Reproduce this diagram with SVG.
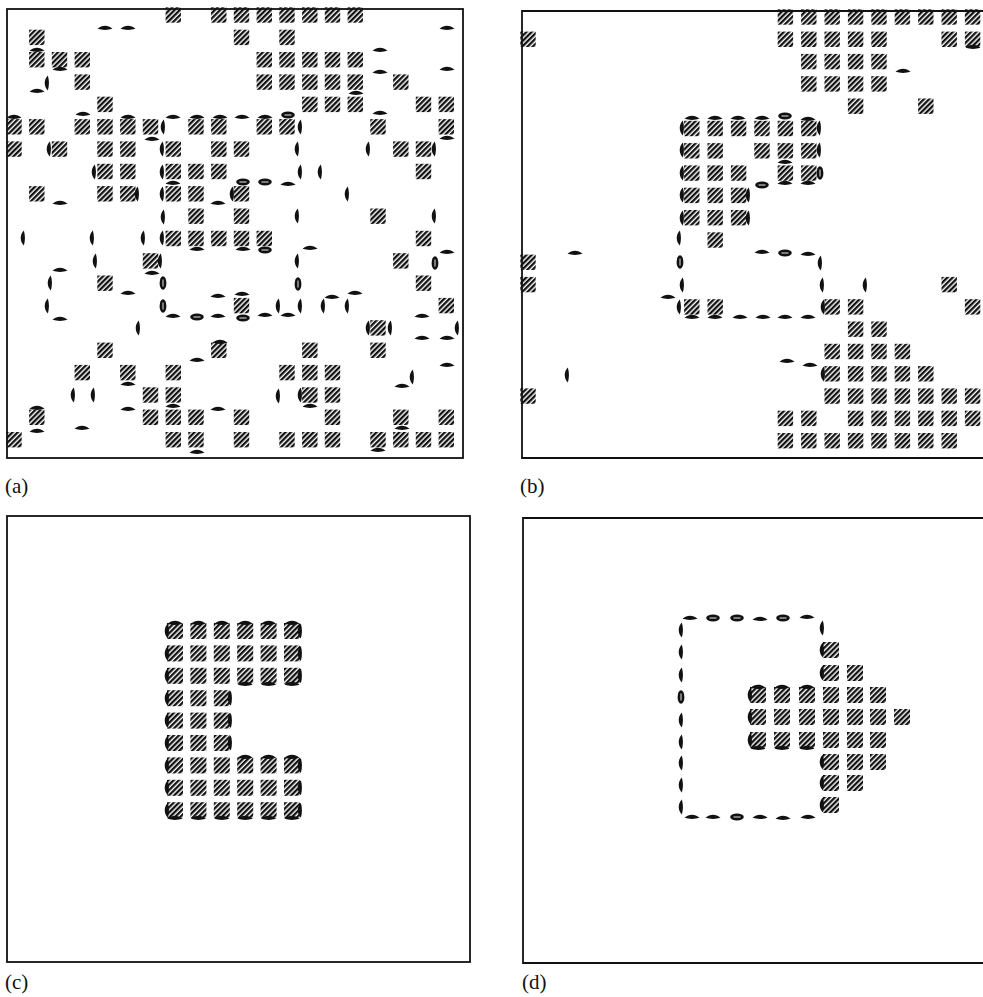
<svg xmlns="http://www.w3.org/2000/svg" xmlns:xlink="http://www.w3.org/1999/xlink" width="983" height="997" viewBox="0 0 983 997">
<style>
.frame{fill:none;stroke:#111;stroke-width:1.8}
.lbl{font-family:"Liberation Serif","Times New Roman",serif;font-size:21px;fill:#111}
.mk{fill:#111}
</style>
<defs>
<pattern id="hatch" patternUnits="userSpaceOnUse" width="3.7" height="3.7" patternTransform="rotate(45)">
<rect width="2.3" height="3.7" fill="#111"/>
</pattern>
<rect id="q" x="-7.7" y="-7.7" width="15.4" height="15.4" fill="url(#hatch)"/>
<rect id="Q" x="-8" y="-8" width="16" height="16" fill="url(#hatch)"/>
<path id="h" class="mk" d="M-7.5,0.8 C-3,-3.3 3,-3.3 7.5,0.8 C3,2.3 -3,2.3 -7.5,0.8Z"/>
<path id="v" class="mk" d="M0.8,-7.5 C-3.3,-3 -3.3,3 0.8,7.5 C2.3,3 2.3,-3 0.8,-7.5Z"/>
<g id="o"><ellipse class="mk" rx="6.8" ry="3.4"/><line x1="-3.5" x2="3.5" y1="0" y2="0" stroke="#fff" stroke-width="0.9"/></g>
<g id="ov"><ellipse class="mk" rx="3.4" ry="6.8"/><line x1="0" x2="0" y1="-3.5" y2="3.5" stroke="#fff" stroke-width="0.9"/></g>
</defs>
<rect width="983" height="997" fill="#fff"/>

<g id="panel-a">
<rect class="frame" x="7" y="9" width="456" height="449"/>
<g id="a-squares">
<use href="#q" x="173.3" y="15"/><use href="#q" x="218.8" y="15"/><use href="#q" x="241.5" y="15"/><use href="#q" x="264.3" y="15"/><use href="#q" x="287" y="15"/><use href="#q" x="309.8" y="15"/><use href="#q" x="332.5" y="15"/><use href="#q" x="355.3" y="15"/>
<use href="#q" x="36.8" y="37.4"/><use href="#q" x="241.5" y="37.4"/><use href="#q" x="287" y="37.4"/>
<use href="#q" x="36.8" y="59.7"/><use href="#q" x="59.5" y="59.7"/><use href="#q" x="82.3" y="59.7"/><use href="#q" x="264.3" y="59.7"/><use href="#q" x="287" y="59.7"/><use href="#q" x="309.8" y="59.7"/><use href="#q" x="332.5" y="59.7"/><use href="#q" x="355.3" y="59.7"/>
<use href="#q" x="82.3" y="82.1"/><use href="#q" x="264.3" y="82.1"/><use href="#q" x="287" y="82.1"/><use href="#q" x="309.8" y="82.1"/><use href="#q" x="332.5" y="82.1"/><use href="#q" x="355.3" y="82.1"/><use href="#q" x="400.8" y="82.1"/>
<use href="#q" x="105" y="104.4"/><use href="#q" x="309.8" y="104.4"/><use href="#q" x="332.5" y="104.4"/><use href="#q" x="355.3" y="104.4"/><use href="#q" x="423.5" y="104.4"/><use href="#q" x="446.3" y="104.4"/>
<use href="#q" x="14" y="126.8"/><use href="#q" x="36.8" y="126.8"/><use href="#q" x="82.3" y="126.8"/><use href="#q" x="105" y="126.8"/><use href="#q" x="127.8" y="126.8"/><use href="#q" x="150.5" y="126.8"/><use href="#q" x="196" y="126.8"/><use href="#q" x="218.8" y="126.8"/><use href="#q" x="264.3" y="126.8"/><use href="#q" x="287" y="126.8"/><use href="#q" x="378" y="126.8"/><use href="#q" x="446.3" y="126.8"/>
<use href="#q" x="14" y="149.1"/><use href="#q" x="59.5" y="149.1"/><use href="#q" x="105" y="149.1"/><use href="#q" x="127.8" y="149.1"/><use href="#q" x="173.3" y="149.1"/><use href="#q" x="218.8" y="149.1"/><use href="#q" x="241.5" y="149.1"/><use href="#q" x="400.8" y="149.1"/><use href="#q" x="423.5" y="149.1"/>
<use href="#q" x="105" y="171.5"/><use href="#q" x="127.8" y="171.5"/><use href="#q" x="173.3" y="171.5"/><use href="#q" x="196" y="171.5"/><use href="#q" x="218.8" y="171.5"/><use href="#q" x="423.5" y="171.5"/>
<use href="#q" x="36.8" y="193.8"/><use href="#q" x="105" y="193.8"/><use href="#q" x="127.8" y="193.8"/><use href="#q" x="173.3" y="193.8"/><use href="#q" x="196" y="193.8"/><use href="#q" x="241.5" y="193.8"/>
<use href="#q" x="196" y="216.2"/><use href="#q" x="241.5" y="216.2"/><use href="#q" x="378" y="216.2"/>
<use href="#q" x="173.3" y="238.5"/><use href="#q" x="196" y="238.5"/><use href="#q" x="218.8" y="238.5"/><use href="#q" x="241.5" y="238.5"/><use href="#q" x="264.3" y="238.5"/><use href="#q" x="423.5" y="238.5"/>
<use href="#q" x="150.5" y="260.9"/><use href="#q" x="400.8" y="260.9"/>
<use href="#q" x="105" y="283.2"/><use href="#q" x="423.5" y="283.2"/>
<use href="#q" x="241.5" y="305.6"/><use href="#q" x="446.3" y="305.6"/>
<use href="#q" x="378" y="327.9"/>
<use href="#q" x="105" y="350.3"/><use href="#q" x="218.8" y="350.3"/><use href="#q" x="309.8" y="350.3"/><use href="#q" x="378" y="350.3"/>
<use href="#q" x="82.3" y="372.6"/><use href="#q" x="127.8" y="372.6"/><use href="#q" x="173.3" y="372.6"/><use href="#q" x="287" y="372.6"/><use href="#q" x="309.8" y="372.6"/><use href="#q" x="332.5" y="372.6"/>
<use href="#q" x="150.5" y="395"/><use href="#q" x="173.3" y="395"/><use href="#q" x="309.8" y="395"/><use href="#q" x="332.5" y="395"/>
<use href="#q" x="36.8" y="417.3"/><use href="#q" x="150.5" y="417.3"/><use href="#q" x="173.3" y="417.3"/><use href="#q" x="196" y="417.3"/><use href="#q" x="241.5" y="417.3"/><use href="#q" x="332.5" y="417.3"/><use href="#q" x="400.8" y="417.3"/><use href="#q" x="446.3" y="417.3"/>
<use href="#q" x="14" y="439.7"/><use href="#q" x="173.3" y="439.7"/><use href="#q" x="196" y="439.7"/><use href="#q" x="241.5" y="439.7"/><use href="#q" x="287" y="439.7"/><use href="#q" x="309.8" y="439.7"/><use href="#q" x="332.5" y="439.7"/><use href="#q" x="378" y="439.7"/><use href="#q" x="400.8" y="439.7"/><use href="#q" x="423.5" y="439.7"/><use href="#q" x="446.3" y="439.7"/>
</g>
<g id="a-marks">
<use href="#h" x="105" y="28"/><use href="#h" x="128" y="28"/><use href="#h" x="447" y="28"/><use href="#h" x="37" y="50"/><use href="#h" x="380" y="50"/><use href="#h" x="60" y="69"/><use href="#h" x="380" y="72"/><use href="#h" x="447" y="69"/><use href="#h" x="37" y="91"/><use href="#h" x="356" y="93"/><use href="#h" x="83" y="114"/><use href="#h" x="380" y="113"/><use href="#h" x="14" y="117"/><use href="#h" x="128" y="117"/><use href="#h" x="173" y="117"/><use href="#h" x="197" y="117"/><use href="#h" x="220" y="117"/><use href="#h" x="242" y="117"/><use href="#h" x="265" y="117"/><use href="#h" x="152" y="139"/><use href="#h" x="447" y="138"/><use href="#h" x="173" y="183"/><use href="#h" x="288" y="184"/><use href="#h" x="60" y="203"/><use href="#h" x="218" y="203"/><use href="#h" x="197" y="249"/><use href="#h" x="243" y="249"/><use href="#h" x="310" y="248"/><use href="#h" x="447" y="252"/><use href="#h" x="60" y="270"/><use href="#h" x="152" y="273"/><use href="#h" x="128" y="293"/><use href="#h" x="218" y="296"/><use href="#h" x="242" y="294"/><use href="#h" x="332" y="297"/><use href="#h" x="355" y="293"/><use href="#h" x="60" y="319"/><use href="#h" x="173" y="316"/><use href="#h" x="218" y="316"/><use href="#h" x="265" y="315"/><use href="#h" x="288" y="315"/><use href="#h" x="422" y="316"/><use href="#h" x="422" y="338"/><use href="#h" x="447" y="338"/><use href="#h" x="220" y="342"/><use href="#h" x="197" y="360"/><use href="#h" x="447" y="365"/><use href="#h" x="128" y="384"/><use href="#h" x="402" y="386"/><use href="#h" x="173" y="406"/><use href="#h" x="310" y="406"/><use href="#h" x="128" y="409"/><use href="#h" x="218" y="409"/><use href="#h" x="37" y="408"/><use href="#h" x="37" y="431"/><use href="#h" x="82" y="428"/><use href="#h" x="402" y="428"/><use href="#h" x="197" y="452"/><use href="#h" x="378" y="450"/>
<use href="#o" x="288" y="115"/><use href="#o" x="243" y="182"/><use href="#o" x="265" y="182"/><use href="#o" x="265" y="250"/><use href="#o" x="243" y="318"/><use href="#o" x="197" y="317"/>
<use href="#v" x="47" y="83"/><use href="#v" x="163" y="127"/><use href="#v" x="300" y="127"/><use href="#v" x="49" y="149"/><use href="#v" x="162" y="149"/><use href="#v" x="297" y="149"/><use href="#v" x="368" y="149"/><use href="#v" x="434" y="149"/><use href="#v" x="94" y="172"/><use href="#v" x="162" y="172"/><use href="#v" x="300" y="172"/><use href="#v" x="320" y="172"/><use href="#v" x="137" y="194"/><use href="#v" x="162" y="194"/><use href="#v" x="232" y="194"/><use href="#v" x="347" y="194"/><use href="#v" x="163" y="217"/><use href="#v" x="297" y="216"/><use href="#v" x="434" y="216"/><use href="#v" x="23" y="238"/><use href="#v" x="92" y="238"/><use href="#v" x="143" y="238"/><use href="#v" x="162" y="238"/><use href="#v" x="95" y="261"/><use href="#v" x="160" y="261"/><use href="#v" x="297" y="261"/><use href="#v" x="50" y="283"/><use href="#v" x="47" y="306"/><use href="#v" x="278" y="306"/><use href="#v" x="300" y="306"/><use href="#v" x="323" y="306"/><use href="#v" x="347" y="306"/><use href="#v" x="138" y="328"/><use href="#v" x="368" y="328"/><use href="#v" x="390" y="328"/><use href="#v" x="457" y="328"/><use href="#v" x="412" y="377"/><use href="#v" x="73" y="395"/><use href="#v" x="93" y="395"/><use href="#v" x="278" y="396"/><use href="#v" x="300" y="395"/>
<use href="#ov" x="163" y="283"/><use href="#ov" x="163" y="306"/><use href="#ov" x="298" y="284"/><use href="#ov" x="435" y="263"/>
</g>
<text class="lbl" x="5" y="493">(a)</text>
</g>

<g id="panel-b">
<path class="frame" d="M983,11 H522 V458 H983"/>
<g id="b-squares">
<use href="#q" x="785.4" y="17"/><use href="#q" x="808.8" y="17"/><use href="#q" x="832.2" y="17"/><use href="#q" x="855.6" y="17"/><use href="#q" x="879" y="17"/><use href="#q" x="902.4" y="17"/><use href="#q" x="925.8" y="17"/><use href="#q" x="949.2" y="17"/><use href="#q" x="972.6" y="17"/>
<use href="#q" x="528" y="39.3"/><use href="#q" x="785.4" y="39.3"/><use href="#q" x="808.8" y="39.3"/><use href="#q" x="832.2" y="39.3"/><use href="#q" x="855.6" y="39.3"/><use href="#q" x="879" y="39.3"/><use href="#q" x="949.2" y="39.3"/><use href="#q" x="972.6" y="39.3"/>
<use href="#q" x="808.8" y="61.6"/><use href="#q" x="832.2" y="61.6"/><use href="#q" x="855.6" y="61.6"/><use href="#q" x="879" y="61.6"/>
<use href="#q" x="808.8" y="83.9"/><use href="#q" x="832.2" y="83.9"/><use href="#q" x="855.6" y="83.9"/><use href="#q" x="879" y="83.9"/>
<use href="#q" x="855.6" y="106.2"/><use href="#q" x="925.8" y="106.2"/>
<use href="#q" x="691.8" y="128.5"/><use href="#q" x="715.2" y="128.5"/><use href="#q" x="738.6" y="128.5"/><use href="#q" x="762" y="128.5"/><use href="#q" x="785.4" y="128.5"/><use href="#q" x="808.8" y="128.5"/>
<use href="#q" x="691.8" y="150.8"/><use href="#q" x="715.2" y="150.8"/><use href="#q" x="762" y="150.8"/><use href="#q" x="785.4" y="150.8"/><use href="#q" x="808.8" y="150.8"/>
<use href="#q" x="691.8" y="173.1"/><use href="#q" x="715.2" y="173.1"/><use href="#q" x="738.6" y="173.1"/><use href="#q" x="785.4" y="173.1"/><use href="#q" x="808.8" y="173.1"/>
<use href="#q" x="691.8" y="195.4"/><use href="#q" x="715.2" y="195.4"/><use href="#q" x="738.6" y="195.4"/>
<use href="#q" x="691.8" y="217.7"/><use href="#q" x="715.2" y="217.7"/><use href="#q" x="738.6" y="217.7"/>
<use href="#q" x="715.2" y="240"/>
<use href="#q" x="528" y="262.3"/>
<use href="#q" x="528" y="284.6"/><use href="#q" x="949.2" y="284.6"/>
<use href="#q" x="691.8" y="306.9"/><use href="#q" x="715.2" y="306.9"/><use href="#q" x="832.2" y="306.9"/><use href="#q" x="855.6" y="306.9"/><use href="#q" x="972.6" y="306.9"/>
<use href="#q" x="855.6" y="329.2"/><use href="#q" x="879" y="329.2"/>
<use href="#q" x="832.2" y="351.5"/><use href="#q" x="855.6" y="351.5"/><use href="#q" x="879" y="351.5"/><use href="#q" x="902.4" y="351.5"/>
<use href="#q" x="832.2" y="373.8"/><use href="#q" x="855.6" y="373.8"/><use href="#q" x="879" y="373.8"/><use href="#q" x="902.4" y="373.8"/><use href="#q" x="925.8" y="373.8"/>
<use href="#q" x="528" y="396.1"/><use href="#q" x="832.2" y="396.1"/><use href="#q" x="855.6" y="396.1"/><use href="#q" x="879" y="396.1"/><use href="#q" x="902.4" y="396.1"/><use href="#q" x="925.8" y="396.1"/><use href="#q" x="949.2" y="396.1"/><use href="#q" x="972.6" y="396.1"/>
<use href="#q" x="785.4" y="418.4"/><use href="#q" x="808.8" y="418.4"/><use href="#q" x="855.6" y="418.4"/><use href="#q" x="879" y="418.4"/><use href="#q" x="902.4" y="418.4"/><use href="#q" x="925.8" y="418.4"/><use href="#q" x="949.2" y="418.4"/><use href="#q" x="972.6" y="418.4"/>
<use href="#q" x="785.4" y="440.7"/><use href="#q" x="808.8" y="440.7"/><use href="#q" x="832.2" y="440.7"/><use href="#q" x="855.6" y="440.7"/><use href="#q" x="879" y="440.7"/><use href="#q" x="902.4" y="440.7"/><use href="#q" x="925.8" y="440.7"/><use href="#q" x="949.2" y="440.7"/>
</g>
<g id="b-marks">
<use href="#h" x="973" y="47"/><use href="#h" x="903" y="71"/><use href="#h" x="692" y="118"/><use href="#h" x="715" y="118"/><use href="#h" x="738" y="118"/><use href="#h" x="762" y="118"/><use href="#h" x="808" y="119"/><use href="#h" x="785" y="162"/><use href="#h" x="785" y="183"/><use href="#h" x="808" y="183"/><use href="#h" x="575" y="253"/><use href="#h" x="762" y="252"/><use href="#h" x="808" y="254"/><use href="#h" x="668" y="297"/><use href="#h" x="692" y="317"/><use href="#h" x="715" y="317"/><use href="#h" x="740" y="317"/><use href="#h" x="763" y="317"/><use href="#h" x="785" y="317"/><use href="#h" x="808" y="317"/><use href="#h" x="787" y="361"/><use href="#h" x="810" y="365"/>
<use href="#o" x="785" y="116"/><use href="#o" x="762" y="185"/><use href="#o" x="785" y="253"/>
<use href="#v" x="682" y="128"/><use href="#v" x="682" y="150"/><use href="#v" x="682" y="173"/><use href="#v" x="682" y="195"/><use href="#v" x="682" y="218"/><use href="#v" x="819" y="128"/><use href="#v" x="819" y="150"/><use href="#v" x="748" y="195"/><use href="#v" x="748" y="218"/><use href="#v" x="679" y="238"/><use href="#v" x="820" y="263"/><use href="#v" x="682" y="285"/><use href="#v" x="822" y="285"/><use href="#v" x="865" y="285"/><use href="#v" x="679" y="307"/><use href="#v" x="823" y="307"/><use href="#v" x="823" y="374"/><use href="#v" x="567" y="375"/>
<use href="#ov" x="820" y="173"/><use href="#ov" x="680" y="262"/>
</g>
<text class="lbl" x="520" y="493">(b)</text>
</g>

<g id="panel-c">
<rect class="frame" x="7" y="516" width="463" height="446"/>
<g id="c-squares">
<use href="#Q" x="175" y="631"/><use href="#Q" x="198.4" y="631"/><use href="#Q" x="221.8" y="631"/><use href="#Q" x="245.2" y="631"/><use href="#Q" x="268.6" y="631"/><use href="#Q" x="292" y="631"/>
<use href="#Q" x="175" y="653.4"/><use href="#Q" x="198.4" y="653.4"/><use href="#Q" x="221.8" y="653.4"/><use href="#Q" x="245.2" y="653.4"/><use href="#Q" x="268.6" y="653.4"/><use href="#Q" x="292" y="653.4"/>
<use href="#Q" x="175" y="675.8"/><use href="#Q" x="198.4" y="675.8"/><use href="#Q" x="221.8" y="675.8"/><use href="#Q" x="245.2" y="675.8"/><use href="#Q" x="268.6" y="675.8"/><use href="#Q" x="292" y="675.8"/>
<use href="#Q" x="175" y="698.2"/><use href="#Q" x="198.4" y="698.2"/><use href="#Q" x="221.8" y="698.2"/>
<use href="#Q" x="175" y="720.6"/><use href="#Q" x="198.4" y="720.6"/><use href="#Q" x="221.8" y="720.6"/>
<use href="#Q" x="175" y="743"/><use href="#Q" x="198.4" y="743"/><use href="#Q" x="221.8" y="743"/>
<use href="#Q" x="175" y="765.4"/><use href="#Q" x="198.4" y="765.4"/><use href="#Q" x="221.8" y="765.4"/><use href="#Q" x="245.2" y="765.4"/><use href="#Q" x="268.6" y="765.4"/><use href="#Q" x="292" y="765.4"/>
<use href="#Q" x="175" y="787.8"/><use href="#Q" x="198.4" y="787.8"/><use href="#Q" x="221.8" y="787.8"/><use href="#Q" x="245.2" y="787.8"/><use href="#Q" x="268.6" y="787.8"/><use href="#Q" x="292" y="787.8"/>
<use href="#Q" x="175" y="810.2"/><use href="#Q" x="198.4" y="810.2"/><use href="#Q" x="221.8" y="810.2"/><use href="#Q" x="245.2" y="810.2"/><use href="#Q" x="268.6" y="810.2"/><use href="#Q" x="292" y="810.2"/>
</g>
<g id="c-marks">
<use href="#h" x="175" y="623"/><use href="#h" x="198.4" y="623"/><use href="#h" x="221.8" y="623"/><use href="#h" x="245.2" y="623"/><use href="#h" x="268.6" y="623"/><use href="#h" x="292" y="623"/>
<use href="#h" x="245.2" y="684"/><use href="#h" x="268.6" y="684"/><use href="#h" x="292" y="684"/>
<use href="#h" x="245.2" y="757"/><use href="#h" x="268.6" y="757"/><use href="#h" x="292" y="757"/>
<use href="#h" x="175" y="818"/><use href="#h" x="198.4" y="818"/><use href="#h" x="221.8" y="818"/><use href="#h" x="245.2" y="818"/><use href="#h" x="268.6" y="818"/><use href="#h" x="292" y="818"/>
<use href="#v" x="167" y="631"/><use href="#v" x="167" y="653.4"/><use href="#v" x="167" y="675.8"/><use href="#v" x="167" y="698.2"/><use href="#v" x="167" y="720.6"/><use href="#v" x="167" y="743"/><use href="#v" x="167" y="765.4"/><use href="#v" x="167" y="787.8"/><use href="#v" x="167" y="810.2"/>
<use href="#v" x="300" y="631"/><use href="#v" x="300" y="653.4"/><use href="#v" x="300" y="675.8"/><use href="#v" x="300" y="765.4"/><use href="#v" x="300" y="787.8"/><use href="#v" x="300" y="810.2"/>
<use href="#v" x="230" y="698.2"/><use href="#v" x="230" y="720.6"/><use href="#v" x="230" y="743"/>
</g>
<text class="lbl" x="5" y="989">(c)</text>
</g>

<g id="panel-d">
<path class="frame" d="M983,518 H523 V963 H983"/>
<g id="d-squares">
<use href="#Q" x="831" y="650"/>
<use href="#Q" x="831" y="673"/><use href="#Q" x="855" y="673"/>
<use href="#Q" x="758" y="695"/><use href="#Q" x="782" y="695"/><use href="#Q" x="807" y="695"/><use href="#Q" x="831" y="695"/><use href="#Q" x="855" y="695"/><use href="#Q" x="878" y="695"/>
<use href="#Q" x="758" y="717"/><use href="#Q" x="782" y="717"/><use href="#Q" x="807" y="717"/><use href="#Q" x="831" y="717"/><use href="#Q" x="855" y="717"/><use href="#Q" x="878" y="717"/><use href="#Q" x="902" y="717"/>
<use href="#Q" x="758" y="740"/><use href="#Q" x="782" y="740"/><use href="#Q" x="807" y="740"/><use href="#Q" x="831" y="740"/><use href="#Q" x="855" y="740"/><use href="#Q" x="878" y="740"/>
<use href="#Q" x="831" y="762"/><use href="#Q" x="855" y="762"/><use href="#Q" x="878" y="762"/>
<use href="#Q" x="831" y="783"/><use href="#Q" x="855" y="783"/>
<use href="#Q" x="831" y="805"/>
</g>
<g id="d-marks">
<use href="#h" x="690" y="618"/><use href="#o" x="713" y="618"/><use href="#o" x="737" y="618"/><use href="#h" x="760" y="619"/><use href="#o" x="783" y="618"/><use href="#h" x="807" y="617"/>
<use href="#v" x="681" y="630"/><use href="#v" x="681" y="652"/><use href="#v" x="681" y="675"/><use href="#ov" x="681" y="697"/><use href="#v" x="681" y="720"/><use href="#v" x="681" y="742"/><use href="#v" x="681" y="763"/><use href="#v" x="681" y="785"/><use href="#v" x="681" y="807"/>
<use href="#v" x="822" y="628"/><use href="#v" x="822" y="650"/><use href="#v" x="822" y="673"/><use href="#v" x="822" y="762"/><use href="#v" x="822" y="783"/><use href="#v" x="822" y="805"/>
<use href="#v" x="750" y="695"/><use href="#v" x="750" y="717"/><use href="#v" x="750" y="740"/>
<use href="#h" x="758" y="687"/><use href="#h" x="782" y="687"/><use href="#h" x="807" y="687"/>
<use href="#h" x="758" y="748"/><use href="#h" x="782" y="748"/><use href="#h" x="807" y="748"/>
<use href="#h" x="692" y="817"/><use href="#h" x="713" y="817"/><use href="#o" x="737" y="817"/><use href="#h" x="760" y="817"/><use href="#h" x="783" y="818"/><use href="#h" x="808" y="817"/>
</g>
<text class="lbl" x="522" y="989">(d)</text>
</g>
</svg>
